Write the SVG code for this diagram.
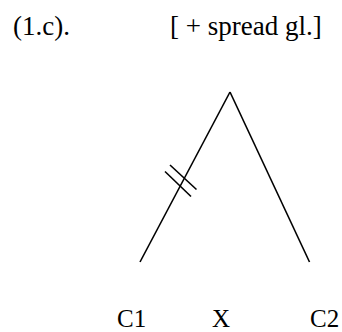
<svg xmlns="http://www.w3.org/2000/svg" width="342" height="332" viewBox="0 0 342 332">
<style>
text{font-family:"Liberation Serif","Times New Roman",serif;font-size:25px;fill:#000}
.big{font-size:27px}
.ln{stroke:#000;stroke-width:1.6;fill:none;stroke-linecap:butt}
</style>
<rect width="342" height="332" fill="#fff"/>
<g id="title">
<text class="big" x="13" y="35">(1.c).</text>
<text class="big" x="170" y="35">[ + spread gl.]</text>
</g>
<g id="connectors">
<line class="ln" x1="140" y1="262" x2="230" y2="92"/>
<line class="ln" x1="230" y1="92" x2="309.5" y2="262"/>
<line class="ln" x1="170" y1="165" x2="196.5" y2="189.5"/>
<line class="ln" x1="165" y1="171.5" x2="191" y2="196.5"/>
</g>
<g id="C1"><text x="117" y="327">C1</text></g>
<g id="X"><text x="212" y="327">X</text></g>
<g id="C2"><text x="310" y="327">C2</text></g>
</svg>
